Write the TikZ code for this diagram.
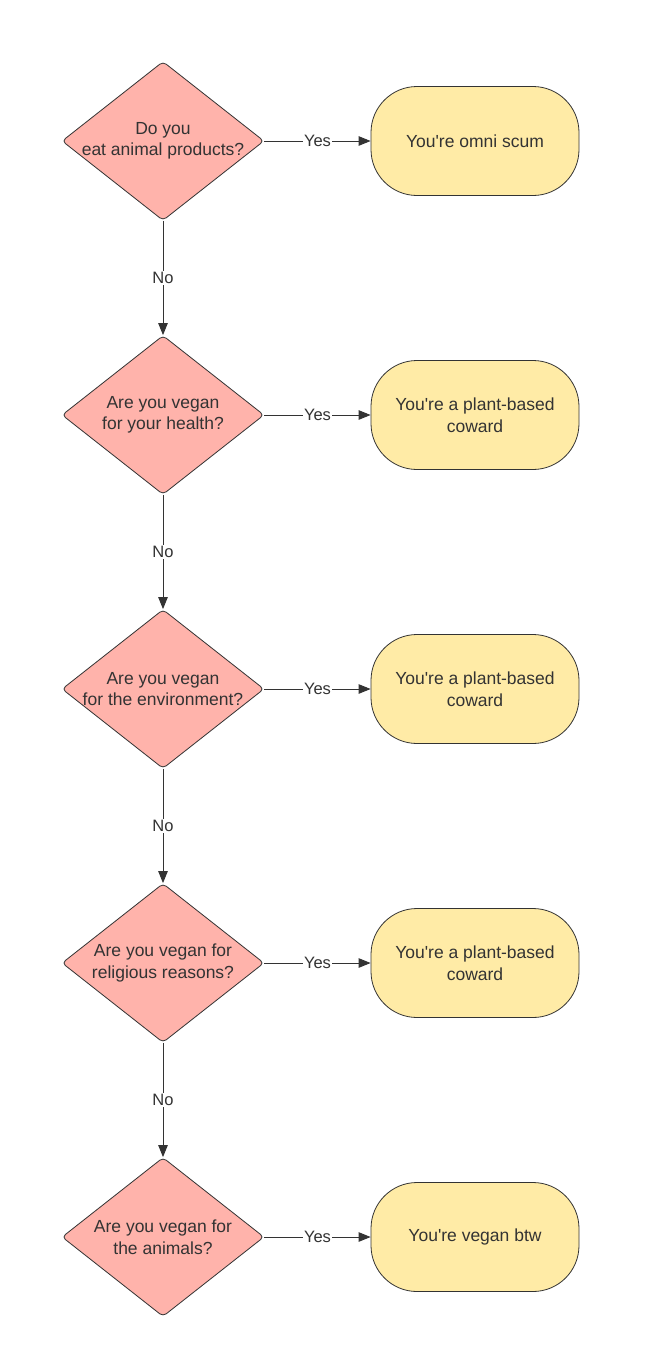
\documentclass[tikz,border=0pt]{standalone}
\usepackage{fontspec}
\setmainfont{Liberation Sans}
\usetikzlibrary{shapes.geometric,arrows.meta}
\definecolor{dfill}{HTML}{FFB3AB}
\definecolor{tfill}{HTML}{FFEBA6}
\definecolor{ink}{HTML}{333333}
\newcommand\flowfont{\fontsize{17.5pt}{21.5pt}\selectfont}
\newcommand\lblfont{\fontsize{16.5pt}{20pt}\selectfont}
\newcommand\apos{\textquotesingle}
\begin{document}
\begin{tikzpicture}[x=1pt,y=-1pt,
  dia/.style={diamond, draw=ink, fill=dfill, line width=0.8pt,
    minimum width=202pt, minimum height=159pt, inner sep=0pt, rounded corners=4pt},
  dtext/.style={align=center, font=\flowfont, text=ink},
  term/.style={rectangle, draw=ink, fill=tfill, line width=0.8pt,
    minimum width=208pt, minimum height=109pt, rounded corners=46pt,
    align=center, font=\flowfont, text=ink},
  arr/.style={draw=ink, line width=0.9pt, -{Triangle[length=12pt,width=9.5pt]}},
  lbl/.style={fill=white, inner sep=1pt, font=\lblfont, text=ink}
]
\useasboundingbox (0,0) rectangle (651,1360);
\fill[white] (0,0) rectangle (651,1360);

\node[dia, label={[dtext]center:{Do you\\eat animal products?}}] (d1) at (163,141) {};
\node[dia, label={[dtext]center:{Are you vegan\\for your health?}}] (d2) at (163,415) {};
\node[dia, label={[dtext]center:{Are you vegan\\for the environment?}}] (d3) at (163,689) {};
\node[dia, label={[dtext]center:{Are you vegan for\\religious reasons?}}] (d4) at (163,963) {};
\node[dia, label={[dtext]center:{Are you vegan for\\the animals?}}] (d5) at (163,1237) {};

\node[term] (t1) at (475,141) {You\apos re omni scum};
\node[term] (t2) at (475,415) {You\apos re a plant-based\\coward};
\node[term] (t3) at (475,689) {You\apos re a plant-based\\coward};
\node[term] (t4) at (475,963) {You\apos re a plant-based\\coward};
\node[term] (t5) at (475,1237) {You\apos re vegan btw};

\foreach \i in {1,...,5}{
  \draw[arr] (d\i) -- node[lbl]{Yes} (t\i);
}
\foreach \i/\j in {1/2,2/3,3/4,4/5}{
  \draw[arr] (d\i) -- node[lbl]{No} (d\j);
}
\end{tikzpicture}
\end{document}
